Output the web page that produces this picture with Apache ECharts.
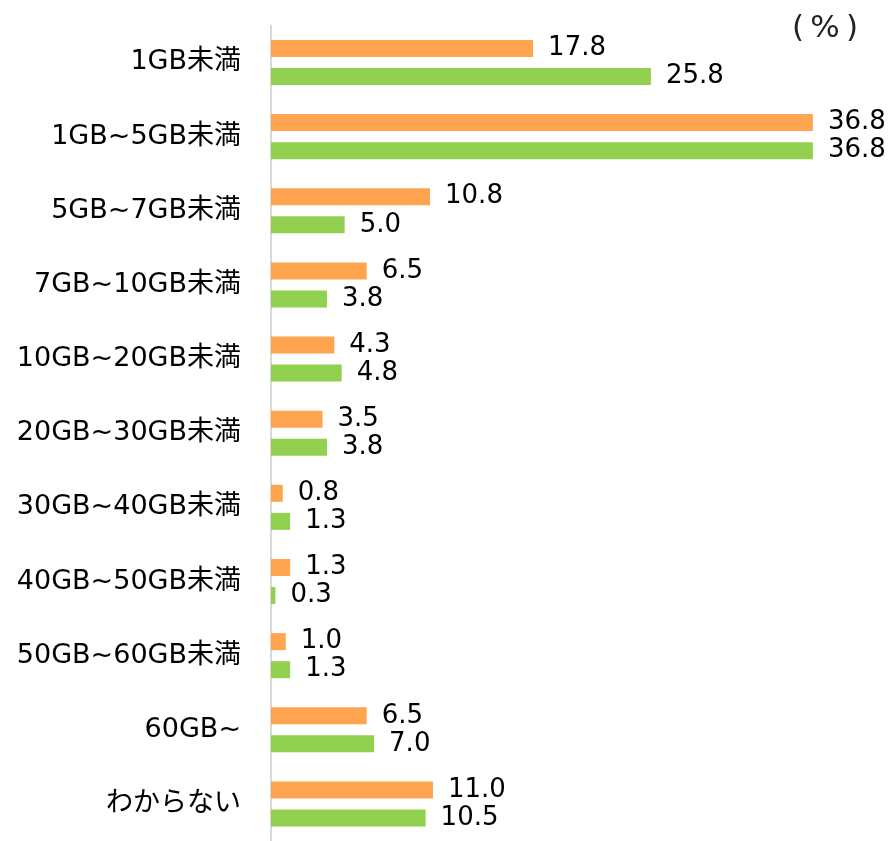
<!DOCTYPE html>
<html>
<head>
<meta charset="utf-8">
<script src="https://cdn.jsdelivr.net/npm/echarts@6/dist/echarts.min.js"></script>
<style>
html,body{margin:0;padding:0;background:#fff;}
#chart{width:893px;height:841px;}
</style>
</head>
<body>
<div id="chart"></div>
<script>
const categories = ['1GB未満','1GB~5GB未満','5GB~7GB未満','7GB~10GB未満','10GB~20GB未満','20GB~30GB未満','30GB~40GB未満','40GB~50GB未満','50GB~60GB未満','60GB~','わからない'];
const seriesA = [17.8, 36.8, 10.8, 6.5, 4.3, 3.5, 0.8, 1.3, 1.0, 6.5, 11.0];
const seriesB = [25.8, 36.8, 5.0, 3.8, 4.8, 3.8, 1.3, 0.3, 1.3, 7.0, 10.5];
const unitLabel = '(\u2009%\u2009)';

const FONT = '"DejaVu Sans", "Noto Sans CJK JP", sans-serif';
const chart = echarts.init(document.getElementById('chart'));
const labelStyle = {
  show: true, position: 'right', distance: 15,
  fontSize: 26, fontFamily: FONT, color: '#000',
  padding: [3, 0, 0, 0],
  formatter: p => p.value.toFixed(1)
};
chart.setOption({
  animation: false,
  title: {
    text: unitLabel, right: 30, top: 8,
    textStyle: {fontSize: 31, fontWeight: 'normal', fontFamily: FONT, color: '#222'}
  },
  grid: {left: 271, top: 25.4, width: 589, height: 822, containLabel: false},
  xAxis: {
    type: 'value', min: 0, max: 40, show: false,
    splitLine: {show: false}
  },
  yAxis: {
    type: 'category', data: categories, inverse: true,
    axisLine: {show: true, lineStyle: {color: '#D9D9D9', width: 2}},
    axisTick: {show: false},
    axisLabel: {margin: 30, fontSize: 27, fontFamily: FONT, color: '#000', padding: [4, 0, 0, 0]}
  },
  series: [
    {type: 'bar', data: seriesA, barWidth: 17, barGap: '65%',
     itemStyle: {color: '#FFA54F'}, label: labelStyle},
    {type: 'bar', data: seriesB, barWidth: 17, barGap: '65%',
     itemStyle: {color: '#92D050'}, label: labelStyle}
  ]
});
</script>
</body>
</html>
